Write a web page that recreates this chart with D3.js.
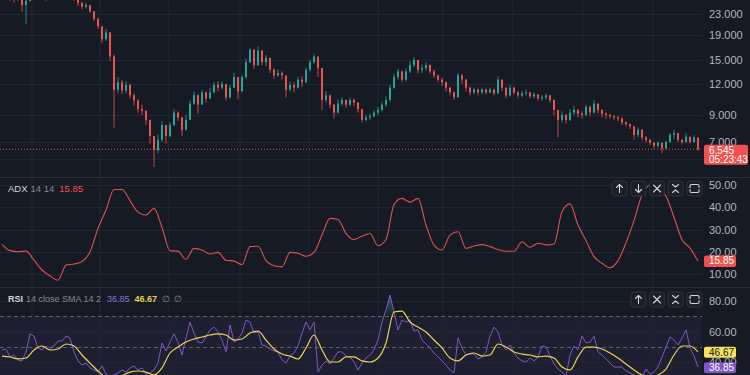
<!DOCTYPE html>
<html>
<head>
<meta charset="utf-8">
<script src="https://cdn.jsdelivr.net/npm/d3@7"></script>
<style>
  html, body { margin: 0; padding: 0; background: #161a25; }
  svg { display: block; font-family: "Liberation Sans", Arial, sans-serif; }
</style>
</head>
<body>
<svg id="chart" width="750" height="375"></svg>
<script>
// ---- data ----
const firstOpen = 28.0;
const closes = [
  27.5, 27.0, 26.6, 26.2, 26.8, 25.0, 26.0, 27.8, 28.6, 29.0,
  28.4, 27.4, 28.0, 29.2, 29.8, 29.0, 28.6, 28.0, 27.0, 25.5,
  24.6, 25.0, 23.6, 22.0, 20.5, 18.2, 19.4, 15.5, 11.4, 12.2,
  11.3, 11.9, 10.8, 10.3, 9.5, 9.35, 8.6, 7.4, 6.5, 7.14,
  8.2, 7.4, 8.2, 9.2, 8.8, 7.84, 8.6, 10.0, 10.8, 9.9,
  11.1, 10.5, 11.1, 11.9, 11.6, 12.0, 10.6, 11.6, 12.8, 11.2,
  12.8, 14.7, 16.5, 14.3, 16.4, 14.7, 15.3, 13.7, 13.0, 13.3,
  13.0, 11.4, 11.9, 11.6, 12.5, 12.2, 13.7, 14.7, 15.5, 13.9,
  10.35, 10.8, 9.9, 9.2, 10.0, 10.35, 9.9, 10.35, 10.1, 9.5,
  8.6, 8.8, 8.9, 9.2, 9.43, 9.9, 10.35, 11.6, 12.8, 13.5,
  12.5, 13.5, 14.3, 15.0, 13.7, 13.9, 14.3, 13.5, 13.0, 12.5,
  12.2, 11.6, 11.1, 10.6, 13.0, 12.5, 11.6, 11.1, 11.4, 11.1,
  11.4, 11.1, 11.4, 11.0, 12.5, 11.6, 10.8, 11.6, 11.1, 10.8,
  11.0, 11.1, 10.7, 10.9, 10.5, 10.6, 10.8, 10.35, 9.43, 8.6,
  9.0, 8.6, 9.2, 9.43, 9.1, 9.0, 9.7, 9.2, 10.0, 9.43,
  9.1, 9.0, 8.9, 8.8, 8.7, 8.4, 8.25, 8.1, 7.48, 7.84,
  7.3, 7.14, 6.95, 6.75, 6.95, 6.6, 7.0, 7.48, 7.6, 7.14,
  7.0, 7.35, 7.0, 7.3, 6.545
];
const highs = [
  28.5, 27.8, 27.5, 27.0, 27.5, 26.8, 27.5, 28.8, 29.5, 30.0,
  29.4, 28.5, 29.0, 30.2, 30.8, 30.0, 29.6, 29.0, 28.0, 27.0,
  25.8, 25.6, 25.0, 23.6, 22.2, 20.6, 20.0, 19.4, 15.8, 12.8,
  12.5, 12.3, 12.0, 11.0, 10.4, 9.9, 9.4, 8.6, 7.4, 7.5,
  8.5, 8.2, 8.4, 9.5, 9.3, 8.8, 9.0, 10.3, 11.2, 10.9,
  11.4, 11.2, 11.6, 12.2, 12.3, 12.3, 12.0, 11.9, 13.3, 12.8,
  13.0, 15.2, 16.8, 16.6, 17.0, 16.4, 15.7, 15.3, 13.9, 13.7,
  13.5, 13.0, 12.3, 12.2, 12.8, 12.9, 14.0, 15.0, 15.9, 15.5,
  13.9, 11.2, 10.9, 10.0, 10.4, 10.6, 10.4, 10.6, 10.5, 10.1,
  9.5, 9.0, 9.1, 9.4, 9.7, 10.2, 10.7, 11.9, 13.2, 13.8,
  13.6, 13.9, 14.8, 15.4, 15.0, 14.4, 14.7, 14.4, 13.7, 13.1,
  12.7, 12.3, 11.7, 11.2, 13.3, 13.2, 12.6, 11.7, 11.6, 11.5,
  11.6, 11.5, 11.6, 11.5, 12.9, 12.5, 11.6, 11.9, 11.7, 11.2,
  11.3, 11.4, 11.1, 11.1, 10.9, 10.8, 11.0, 10.8, 10.4, 9.4,
  9.3, 9.1, 9.5, 9.8, 9.5, 9.3, 9.9, 9.8, 10.35, 10.0,
  9.5, 9.2, 9.1, 9.0, 8.9, 8.8, 8.5, 8.3, 8.1, 8.0,
  7.9, 7.4, 7.2, 7.0, 7.05, 6.95, 7.1, 7.6, 7.85, 7.6,
  7.2, 7.6, 7.3, 7.45, 7.3
];
const lows = [
  26.8, 26.3, 26.0, 25.6, 26.0, 23.5, 20.9, 25.8, 27.5, 28.0,
  27.6, 26.0, 27.0, 28.3, 28.8, 28.2, 27.8, 27.2, 26.0, 24.8,
  24.0, 24.2, 23.2, 21.6, 20.0, 17.6, 17.9, 14.8, 8.0, 11.0,
  10.9, 11.0, 10.5, 9.8, 9.2, 9.0, 8.2, 6.9, 5.55, 6.3,
  7.0, 6.9, 7.3, 8.1, 8.5, 7.4, 7.8, 8.6, 9.9, 9.1,
  9.9, 10.1, 10.4, 11.0, 11.2, 11.4, 10.3, 10.5, 11.6, 10.4,
  11.2, 12.6, 14.6, 13.8, 14.2, 14.3, 14.2, 13.3, 12.6, 12.8,
  12.5, 10.6, 11.2, 11.1, 11.5, 11.7, 12.1, 13.5, 14.5, 12.8,
  9.43, 10.1, 9.6, 8.7, 9.1, 9.8, 9.6, 9.8, 9.8, 9.2,
  8.4, 8.5, 8.6, 8.8, 9.0, 9.3, 9.7, 10.2, 11.5, 12.5,
  12.2, 12.3, 13.3, 14.0, 13.2, 13.3, 13.6, 13.2, 12.7, 12.2,
  11.8, 11.2, 10.8, 10.35, 10.6, 12.0, 11.2, 10.8, 10.9, 10.8,
  10.9, 10.9, 11.0, 10.8, 10.9, 11.2, 10.5, 10.7, 10.9, 10.5,
  10.6, 10.8, 10.5, 10.5, 10.3, 10.3, 10.4, 10.1, 9.0, 7.3,
  8.4, 8.3, 8.5, 9.0, 8.8, 8.7, 8.9, 8.9, 9.1, 9.1,
  8.8, 8.7, 8.7, 8.6, 8.5, 8.2, 8.1, 7.9, 7.14, 7.3,
  7.1, 6.95, 6.8, 6.6, 6.65, 6.3, 6.5, 6.95, 7.2, 7.0,
  6.85, 6.95, 6.9, 6.95, 6.45
];
const lastPrice = 6.545;
const countdown = "05:23:43";
const priceTicks = [23, 19, 15, 12, 9, 7, 6];

// ADX 14 14 (one value every two bars)
const adx = [
  23.3, 20.5, 20.0, 20.3, 16.2, 11.8, 9.2, 7.2, 14.0, 14.5,
  15.6, 20.0, 30.5, 38.8, 48.0, 48.0, 43.0, 37.8, 36.5, 39.5,
  30.9, 20.5, 20.3, 16.6, 21.5, 20.8, 19.0, 19.7, 16.2, 15.8,
  14.2, 22.3, 22.5, 16.0, 13.7, 13.2, 19.7, 19.3, 18.0, 19.7,
  27.5, 35.0, 34.5, 28.3, 25.5, 27.0, 28.2, 22.7, 25.5, 41.2,
  44.0, 42.3, 44.0, 32.0, 23.0, 20.8, 27.5, 29.0, 21.5, 22.6,
  23.2, 22.3, 21.0, 20.2, 20.2, 24.5, 22.0, 23.8, 23.1, 23.5,
  38.0, 41.5, 32.0, 25.0, 17.8, 14.8, 12.8, 16.0, 24.0, 34.0,
  45.5, 49.8, 48.2, 45.0, 35.5, 25.5, 21.6, 15.85
];
const adxTicks = [50, 40, 30, 20, 10];

// RSI 14 (one value per bar) and its SMA 14 (one value every two bars)
const rsi = [
  47.9, 48.5, 43.3, 44.6, 41.3, 40.7, 46.6, 58.4, 57.0, 49.2,
  47.9, 50.5, 49.2, 50.5, 53.8, 53.8, 57.0, 55.7, 46.6, 40.7,
  38.0, 39.3, 36.1, 34.8, 33.4, 37.4, 32.1, 30.8, 31.5, 32.8,
  34.8, 33.4, 36.1, 37.4, 34.8, 36.1, 32.1, 32.8, 34.8, 39.3,
  52.5, 47.2, 53.1, 58.4, 53.1, 44.6, 55.7, 66.2, 59.0, 53.1,
  52.5, 56.4, 61.0, 62.9, 59.7, 54.4, 46.6, 64.3, 53.1, 55.1,
  59.0, 67.5, 66.2, 59.0, 59.7, 51.1, 50.5, 48.5, 47.2, 46.6,
  41.3, 39.3, 43.9, 45.9, 50.5, 59.0, 66.2, 61.0, 66.2, 33.4,
  38.0, 40.7, 38.7, 42.6, 46.6, 46.6, 43.9, 43.3, 40.0, 34.8,
  39.3, 42.6, 44.6, 47.9, 54.4, 66.2, 74.1, 83.9, 72.8, 61.0,
  67.5, 66.2, 67.5, 60.3, 61.0, 54.4, 51.8, 49.2, 45.9, 43.3,
  40.7, 38.0, 34.8, 32.8, 55.7, 49.2, 44.6, 45.2, 45.2, 42.0,
  43.3, 46.6, 57.0, 62.9, 59.7, 51.1, 47.9, 51.1, 45.9, 42.6,
  40.7, 40.0, 42.6, 40.7, 43.3, 50.5, 49.8, 43.9, 38.7, 35.4,
  33.4, 30.8, 44.6, 50.5, 47.9, 57.0, 52.5, 53.1, 57.0, 46.6,
  44.6, 42.0, 39.3, 36.7, 36.7, 36.7, 34.1, 32.8, 31.5, 30.8,
  30.2, 35.4, 32.1, 33.4, 36.7, 43.3, 49.8, 56.4, 54.4, 51.1,
  55.7, 61.0, 49.2, 43.9, 36.85
];
const rsiSma = [
  43.9, 43.3, 42.0, 42.6, 47.9, 50.5, 47.9, 48.5, 51.8, 50.5,
  44.6, 39.3, 34.1, 29.5, 27.5, 30.8, 33.4, 34.1, 33.4, 31.5,
  36.1, 45.9, 49.8, 53.1, 55.1, 56.4, 57.7, 58.4, 57.7, 54.4,
  55.1, 59.0, 60.3, 54.4, 48.5, 45.2, 43.9, 42.0, 49.2, 57.7,
  47.9, 40.0, 40.0, 43.3, 43.3, 40.7, 40.0, 42.6, 52.5, 72.8,
  73.4, 66.2, 62.9, 59.7, 54.4, 49.2, 42.6, 40.7, 44.6, 45.9,
  43.9, 44.6, 51.8, 49.8, 46.6, 45.2, 44.6, 43.3, 43.9, 42.6,
  36.7, 34.8, 43.3, 49.8, 49.8, 48.5, 45.9, 42.6, 38.7, 34.8,
  31.5, 30.2, 31.5, 35.4, 44.6, 50.5, 50.5, 46.67
];
const rsiTicks = [80, 60, 40];
const rsiLevels = [70, 50];

// vertical time grid, in bar positions
const timeGrid = [7.5, 24.5, 41.7, 59.5, 76.7, 94, 110.2, 127.7, 145.2, 162.7];

// ---- layout ----
const plotRight = 702;
const panes = {
  main: {top: 0, bottom: 177},
  adx: {top: 178, bottom: 287},
  rsi: {top: 288, bottom: 375}
};
const upColor = '#26a69a', downColor = '#ef5350';
const gridColor = '#222633', textColor = '#b2b5be';

const svg = d3.select('#chart');
svg.append('rect').attr('width', 750).attr('height', 375).attr('fill', '#161a25');

const x = d3.scaleLinear().domain([0, closes.length - 1]).range([2, 698]);
const xAdx = d3.scaleLinear().domain([0, adx.length - 1]).range([2, 698]);
const xSma = d3.scaleLinear().domain([0, rsiSma.length - 1]).range([2, 698]);
const yPrice = d3.scaleLog().domain([23, 7]).range([14, 142]);
const yAdx = d3.scaleLinear().domain([50, 10]).range([185, 274]);
const yRsi = d3.scaleLinear().domain([80, 60]).range([301, 331.5]);

// clip paths for each pane
const defs = svg.append('defs');
Object.entries(panes).forEach(([k, p]) => {
  defs.append('clipPath').attr('id', 'clip-' + k)
    .append('rect').attr('x', 0).attr('y', p.top)
    .attr('width', plotRight).attr('height', p.bottom - p.top);
});
const grad = defs.append('linearGradient').attr('id', 'obGrad')
  .attr('x1', 0).attr('y1', 0).attr('x2', 0).attr('y2', 1);
grad.append('stop').attr('offset', '0%').attr('stop-color', '#26a69a').attr('stop-opacity', 0.55);
grad.append('stop').attr('offset', '100%').attr('stop-color', '#26a69a').attr('stop-opacity', 0.05);

// RSI background band 70..30
svg.append('rect')
  .attr('x', 0).attr('y', yRsi(70))
  .attr('width', plotRight).attr('height', yRsi(30) - yRsi(70))
  .attr('fill', '#7e57c2').attr('opacity', 0.09)
  .attr('clip-path', 'url(#clip-rsi)');

// grid lines
const grid = svg.append('g');
grid.selectAll('.vgrid').data(timeGrid).enter().append('line')
  .attr('x1', d => x(d)).attr('x2', d => x(d))
  .attr('y1', 0).attr('y2', 375)
  .attr('stroke', gridColor).attr('stroke-width', 1);
grid.selectAll('.pgrid').data(priceTicks).enter().append('line')
  .attr('x1', 0).attr('x2', plotRight)
  .attr('y1', d => Math.round(yPrice(d)) + 0.5).attr('y2', d => Math.round(yPrice(d)) + 0.5)
  .attr('stroke', gridColor);
grid.selectAll('.agrid').data(adxTicks).enter().append('line')
  .attr('x1', 0).attr('x2', plotRight)
  .attr('y1', d => Math.round(yAdx(d)) + 0.5).attr('y2', d => Math.round(yAdx(d)) + 0.5)
  .attr('stroke', gridColor);
grid.selectAll('.rgrid').data(rsiTicks).enter().append('line')
  .attr('x1', 0).attr('x2', plotRight)
  .attr('y1', d => Math.round(yRsi(d)) + 0.5).attr('y2', d => Math.round(yRsi(d)) + 0.5)
  .attr('stroke', gridColor);
grid.selectAll('.rlevel').data(rsiLevels).enter().append('line')
  .attr('x1', 0).attr('x2', plotRight)
  .attr('y1', d => Math.round(yRsi(d)) + 0.5).attr('y2', d => Math.round(yRsi(d)) + 0.5)
  .attr('stroke', '#5d606b').attr('stroke-dasharray', '4,3');

// pane separators
svg.selectAll('.sep').data([panes.adx.top - 0.5, panes.rsi.top - 0.5]).enter().append('line')
  .attr('x1', 0).attr('x2', 750).attr('y1', d => d).attr('y2', d => d)
  .attr('stroke', '#2a2e39').attr('stroke-width', 1);

// ---- candles ----
const bars = closes.map((c, i) => {
  const o = i === 0 ? firstOpen : closes[i - 1];
  return {i: i, o: o, c: c, h: Math.max(highs[i], o, c), l: Math.min(lows[i], o, c)};
});
const candles = svg.append('g').attr('clip-path', 'url(#clip-main)');
candles.selectAll('.wick').data(bars).enter().append('line')
  .attr('x1', d => x(d.i)).attr('x2', d => x(d.i))
  .attr('y1', d => yPrice(d.h)).attr('y2', d => yPrice(d.l))
  .attr('stroke', d => d.c >= d.o ? upColor : downColor)
  .attr('stroke-width', 0.8);
candles.selectAll('.body').data(bars).enter().append('rect')
  .attr('x', d => x(d.i) - 1)
  .attr('width', 2)
  .attr('y', d => yPrice(Math.max(d.o, d.c)))
  .attr('height', d => Math.max(1, yPrice(Math.min(d.o, d.c)) - yPrice(Math.max(d.o, d.c))))
  .attr('fill', d => d.c >= d.o ? upColor : downColor);

// last price dotted line
svg.append('line')
  .attr('x1', 0).attr('x2', plotRight)
  .attr('y1', yPrice(lastPrice)).attr('y2', yPrice(lastPrice))
  .attr('stroke', '#ef5350').attr('stroke-width', 1)
  .attr('stroke-dasharray', '1,2');

// ---- ADX ----
svg.append('path')
  .datum(adx)
  .attr('clip-path', 'url(#clip-adx)')
  .attr('fill', 'none')
  .attr('stroke', '#e0504f')
  .attr('stroke-width', 1.1)
  .attr('d', d3.line().x((d, i) => xAdx(i)).y(d => yAdx(d)).curve(d3.curveMonotoneX));

// ---- RSI ----
svg.append('path')
  .datum(rsi)
  .attr('clip-path', 'url(#clip-rsi)')
  .attr('fill', 'url(#obGrad)')
  .attr('d', d3.area()
    .x((d, i) => x(i))
    .y0(yRsi(70))
    .y1(d => yRsi(Math.max(d, 70))));
svg.append('path')
  .datum(rsi)
  .attr('clip-path', 'url(#clip-rsi)')
  .attr('fill', 'none')
  .attr('stroke', '#7e57c2')
  .attr('stroke-width', 1)
  .attr('d', d3.line().x((d, i) => x(i)).y(d => yRsi(d)));
svg.append('path')
  .datum(rsiSma)
  .attr('clip-path', 'url(#clip-rsi)')
  .attr('fill', 'none')
  .attr('stroke', '#ecd24f')
  .attr('stroke-width', 1.2)
  .attr('d', d3.line().x((d, i) => xSma(i)).y(d => yRsi(d)).curve(d3.curveMonotoneX));

// ---- right axes ----
function rightAxis(scale, ticks, fmt) {
  const g = svg.append('g')
    .attr('transform', `translate(${plotRight + 3},0)`)
    .call(d3.axisRight(scale).tickValues(ticks).tickFormat(d3.format(fmt)).tickSize(0).tickPadding(4));
  g.select('.domain').remove();
  g.selectAll('text')
    .attr('fill', textColor)
    .attr('font-size', 11)
    .attr('font-family', '"Liberation Sans", Arial, sans-serif');
}
rightAxis(yPrice, priceTicks, '.3f');
rightAxis(yAdx, adxTicks, '.2f');
rightAxis(yRsi, rsiTicks, '.2f');

// value tags on the axis
function tag(y, h, w, fill, color, lines) {
  const g = svg.append('g');
  g.append('rect').attr('x', 704).attr('y', y).attr('width', w).attr('height', h)
    .attr('rx', 2).attr('fill', fill);
  lines.forEach((t, k) => {
    g.append('text').attr('x', 709).attr('y', y + 9 + k * 9.5)
      .attr('font-size', 10).attr('fill', color).text(t);
  });
}
tag(yPrice(lastPrice) - 4.5, 20, 44, '#ef5350', '#ffffff', [d3.format('.3f')(lastPrice), countdown]);
tag(yAdx(adx[adx.length - 1]) - 5.5, 11.5, 32, '#ef5350', '#ffffff', [d3.format('.2f')(adx[adx.length - 1])]);
tag(yRsi(rsiSma[rsiSma.length - 1]) - 5, 11, 32, '#f5e35f', '#131722', [d3.format('.2f')(rsiSma[rsiSma.length - 1])]);
tag(yRsi(rsi[rsi.length - 1]) - 4.5, 11, 32, '#7e57c2', '#ffffff', [d3.format('.2f')(rsi[rsi.length - 1])]);

// ---- pane legends ----
const adxLegend = svg.append('text').attr('x', 8).attr('y', 192).attr('font-size', 9.5);
adxLegend.append('tspan').attr('fill', '#d1d4dc').text('ADX');
adxLegend.append('tspan').attr('dx', 3).attr('fill', '#868993').text('14 14');
adxLegend.append('tspan').attr('dx', 5).attr('fill', '#ef5350').text(d3.format('.2f')(adx[adx.length - 1]));

const rsiLegend = svg.append('text').attr('x', 8).attr('y', 302).attr('font-size', 9);
rsiLegend.append('tspan').attr('fill', '#d1d4dc').attr('font-weight', 'bold').text('RSI');
rsiLegend.append('tspan').attr('dx', 3).attr('fill', '#868993').text('14 close SMA 14 2');
rsiLegend.append('tspan').attr('dx', 6).attr('fill', '#8c6fd6').text(d3.format('.2f')(rsi[rsi.length - 1]));
rsiLegend.append('tspan').attr('dx', 5).attr('fill', '#e6cf4c').attr('font-weight', 'bold').text(d3.format('.2f')(rsiSma[rsiSma.length - 1]));
rsiLegend.append('tspan').attr('dx', 5).attr('fill', '#868993').text('\u2205');
rsiLegend.append('tspan').attr('dx', 4).attr('fill', '#868993').text('\u2205');

// ---- pane buttons ----
const icons = {
  up: (cx, cy) => `M${cx},${cy + 4}V${cy - 4}M${cx - 3},${cy - 1}L${cx},${cy - 4}L${cx + 3},${cy - 1}`,
  down: (cx, cy) => `M${cx},${cy - 4}V${cy + 4}M${cx - 3},${cy + 1}L${cx},${cy + 4}L${cx + 3},${cy + 1}`,
  close: (cx, cy) => `M${cx - 3.5},${cy - 3.5}L${cx + 3.5},${cy + 3.5}M${cx + 3.5},${cy - 3.5}L${cx - 3.5},${cy + 3.5}`,
  collapse: (cx, cy) => `M${cx - 3},${cy - 4}L${cx},${cy - 1.5}L${cx + 3},${cy - 4}M${cx - 3},${cy + 4}L${cx},${cy + 1.5}L${cx + 3},${cy + 4}`,
  maximize: (cx, cy) => `M${cx - 4.5},${cy - 1}V${cy - 2.5}Q${cx - 4.5},${cy - 4} ${cx - 3},${cy - 4}H${cx + 3}Q${cx + 4.5},${cy - 4} ${cx + 4.5},${cy - 2.5}V${cy - 1}` +
    `M${cx - 4.5},${cy + 1}V${cy + 2.5}Q${cx - 4.5},${cy + 4} ${cx - 3},${cy + 4}H${cx + 3}Q${cx + 4.5},${cy + 4} ${cx + 4.5},${cy + 2.5}V${cy + 1}`
};
function buttons(y, list) {
  const g = svg.append('g');
  list.forEach(b => {
    g.append('rect').attr('x', b.x).attr('y', y).attr('width', 15).attr('height', 15)
      .attr('rx', 3).attr('fill', '#1c202b').attr('stroke', '#2e323e');
    g.append('path').attr('d', icons[b.icon](b.x + 7.5, y + 7.5))
      .attr('fill', 'none').attr('stroke', '#d1d4dc').attr('stroke-width', 1.1)
      .attr('stroke-linecap', 'round').attr('stroke-linejoin', 'round');
  });
}
buttons(181, [
  {x: 612, icon: 'up'}, {x: 631, icon: 'down'}, {x: 649.5, icon: 'close'},
  {x: 668, icon: 'collapse'}, {x: 687, icon: 'maximize'}
]);
buttons(292, [
  {x: 631, icon: 'up'}, {x: 649.5, icon: 'close'},
  {x: 668, icon: 'collapse'}, {x: 687, icon: 'maximize'}
]);
</script>
</body>
</html>
